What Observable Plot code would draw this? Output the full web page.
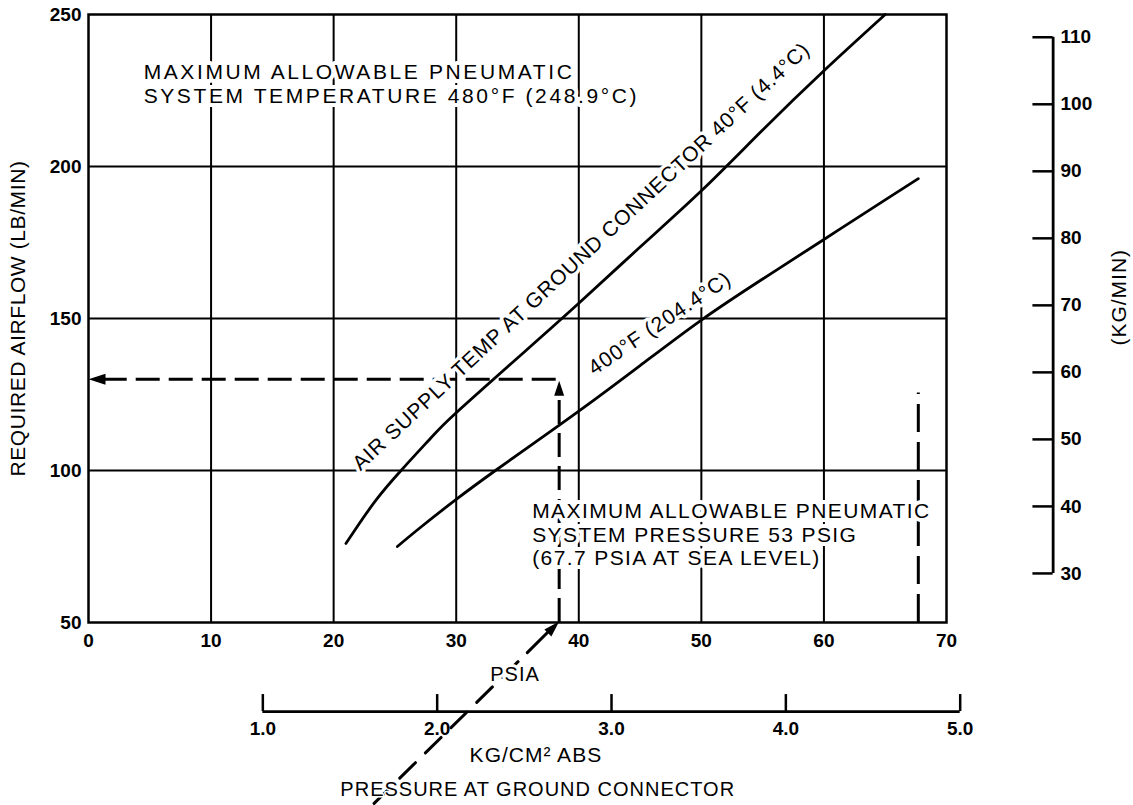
<!DOCTYPE html>
<html><head><meta charset="utf-8">
<script src="https://cdn.jsdelivr.net/npm/d3@7"></script>
<script src="https://cdn.jsdelivr.net/npm/@observablehq/plot@0.6"></script>
<style>body{margin:0;background:#fff;} svg{display:block;}</style>
</head><body><div id="chart"></div>
<script>
// ---- data ----
const psiaTicks = [0, 10, 20, 30, 40, 50, 60, 70];
const airflowTicks = [50, 100, 150, 200, 250];
const kgPerMinTicks = [30, 40, 50, 60, 70, 80, 90, 100, 110];
const kgPerCm2Ticks = [1.0, 2.0, 3.0, 4.0, 5.0];

// Air supply temp at ground connector 40°F (4.4°C)
const psia40F    = [21, 22, 23.5, 25.5, 28, 30, 35, 40, 45, 50, 55, 60, 65];
const airflow40F = [76, 82, 90.5, 100, 111, 119, 137, 155, 173.5, 192, 212, 231.5, 250];
// 400°F (204.4°C)
const psia400F    = [25.2, 27, 30, 33.2, 36, 40, 45, 50, 55, 60, 65, 67.7];
const airflow400F = [75, 81, 90.5, 100, 108, 119.5, 134.5, 149.5, 163, 176, 189, 196];

const examplePsia = 38.4;      // example pressure at ground connector
const exampleAirflow = 130;    // resulting required airflow
const maxPsia = 67.7;          // max allowable system pressure (PSIA at sea level)
const maxPsiaLineTop = 125.5;

const LB_PER_KG = 2.20462;
const PSI_PER_KGCM2 = 14.2233;

// texts
const tempNote = "MAXIMUM ALLOWABLE PNEUMATIC\nSYSTEM TEMPERATURE 480°F (248.9°C)";
const pressNote = "MAXIMUM ALLOWABLE PNEUMATIC\nSYSTEM PRESSURE 53 PSIG\n(67.7 PSIA AT SEA LEVEL)";
const label40F = "AIR SUPPLY TEMP AT GROUND CONNECTOR 40°F (4.4°C)";
const label400F = "400°F (204.4°C)";
const yTitle = "REQUIRED AIRFLOW (LB/MIN)";
const y2Title = "(KG/MIN)";
const xTitle = "PSIA";
const x2Title = "KG/CM² ABS";
const xCaption = "PRESSURE AT GROUND CONNECTOR";

const curve40F = psia40F.map((x, i) => ({x, y: airflow40F[i]}));
const curve400F = psia400F.map((x, i) => ({x, y: airflow400F[i]}));

// arrowhead shapes
const headLeft = {draw(c){c.moveTo(0,0);c.lineTo(17,-5.5);c.lineTo(17,5.5);c.closePath();}};
const headUp = {draw(c){c.moveTo(0,0);c.lineTo(-5,15);c.lineTo(5,15);c.closePath();}};
const headUpRight = {draw(c){c.moveTo(0,0);c.lineTo(-7.8,14.8);c.lineTo(-14.8,7.8);c.closePath();}};

const F = "Liberation Sans";
const halo = {stroke: "white", strokeWidth: 8, paintOrder: "stroke", fill: "black", fontFamily: F};
const dash = {stroke: "black", strokeWidth: 3};

const chart = Plot.plot({
  width: 1133,
  height: 805,
  marginLeft: 88,
  marginRight: 187,
  marginTop: 14,
  marginBottom: 183,
  x: {domain: [0, 70]},
  y: {domain: [50, 250]},
  style: {fontFamily: F, background: "white", color: "black"},
  marks: [
    // grid
    Plot.ruleX(psiaTicks.filter(d => d > 0 && d < 70), {stroke: "black", strokeWidth: 2}),
    Plot.ruleY(airflowTicks.filter(d => d > 50 && d < 250), {stroke: "black", strokeWidth: 2}),
    Plot.frame({stroke: "black", strokeWidth: 2.5}),

    // dashed guide lines
    Plot.ruleY([exampleAirflow], {x1: 1.2, x2: examplePsia, ...dash, strokeDasharray: "24,9"}),
    Plot.ruleX([examplePsia], {y1: 50, y2: exampleAirflow - 3, ...dash, strokeDasharray: "24,9"}),
    Plot.ruleX([maxPsia], {y1: 50, y2: maxPsiaLineTop, ...dash, strokeDasharray: "28,10"}),
    Plot.line([{x: 23.3, y: -9.5}, {x: 35.8, y: 40.1}], {x: "x", y: "y", ...dash, strokeDasharray: "22,14"}),
    Plot.line([{x: 35.8, y: 40.1}, {x: examplePsia - 0.5, y: 48.5}], {x: "x", y: "y", ...dash}),

    // annotations
    Plot.text([tempNote], {x: 4.5, y: 234.2, textAnchor: "start", lineAnchor: "top", lineHeight: 1.12, fontSize: 21, ...halo}),
    Plot.text([pressNote], {x: 36.2, y: 89.8, textAnchor: "start", lineAnchor: "top", lineHeight: 1.12, fontSize: 21, ...halo}),
    Plot.text([label40F], {x: 40.2, y: 170.4, rotate: -43, textAnchor: "middle", lineAnchor: "middle", fontSize: 21, ...halo, strokeWidth: 7}),
    Plot.text([label400F], {x: 46.6, y: 148.4, rotate: -34, textAnchor: "middle", lineAnchor: "middle", fontSize: 21, ...halo, strokeWidth: 7}),
    Plot.text([xTitle], {x: 34.8, y: 32.9, fontSize: 20, ...halo, strokeWidth: 6}),
    Plot.text([x2Title], {x: 36.5, y: 6.3, fontSize: 21, ...halo, strokeWidth: 4}),
    Plot.text([xCaption], {x: 36.65, y: -5.0, fontSize: 20, ...halo, strokeWidth: 3}),

    // curves
    Plot.line(curve40F, {x: "x", y: "y", curve: "natural", stroke: "black", strokeWidth: 2.8}),
    Plot.line(curve400F, {x: "x", y: "y", curve: "natural", stroke: "black", strokeWidth: 2.8}),

    // arrowheads
    Plot.dot([{x: 0, y: exampleAirflow}], {x: "x", y: "y", symbol: headLeft, fill: "black", stroke: "none"}),
    Plot.dot([{x: examplePsia, y: exampleAirflow - 0.5}], {x: "x", y: "y", symbol: headUp, fill: "black", stroke: "none"}),
    Plot.dot([{x: examplePsia, y: 50.3}], {x: "x", y: "y", symbol: headUpRight, fill: "black", stroke: "none"}),

    // main axes
    Plot.axisX(psiaTicks, {tickSize: 0, tickPadding: 11, fontSize: 19, fontWeight: "bold", label: null}),
    Plot.axisY(airflowTicks, {tickSize: 0, tickPadding: 7, fontSize: 19, fontWeight: "bold", label: null}),
    Plot.text([yTitle], {x: -5.7, y: 150, rotate: -90, fontSize: 21, fontFamily: F}),

    // secondary axis: KG/MIN
    Plot.ruleX([78.7], {y1: 30 * LB_PER_KG, y2: 110 * LB_PER_KG, stroke: "black", strokeWidth: 2.8}),
    Plot.ruleY(kgPerMinTicks, {y: d => d * LB_PER_KG, x1: 77.05, x2: 78.7, stroke: "black", strokeWidth: 2.5}),
    Plot.text(kgPerMinTicks, {y: d => d * LB_PER_KG, x: 79.3, text: d => String(d), textAnchor: "start", fontSize: 19, fontWeight: "bold", fontFamily: F}),
    Plot.text([y2Title], {x: 84.1, y: 157, rotate: -90, fontSize: 21, fontFamily: F}),

    // secondary axis: KG/CM² ABS
    Plot.ruleY([20.7], {x1: 1 * PSI_PER_KGCM2, x2: 5 * PSI_PER_KGCM2, stroke: "black", strokeWidth: 2.8}),
    Plot.ruleX(kgPerCm2Ticks, {x: d => d * PSI_PER_KGCM2, y1: 20.7, y2: 26.3, stroke: "black", strokeWidth: 2.5}),
    Plot.text(kgPerCm2Ticks, {x: d => d * PSI_PER_KGCM2, y: 15.1, text: d => d.toFixed(1), fontSize: 19, fontWeight: "bold", fontFamily: F})
  ]
});

// letter spacing to match the wide lettering of the original
const spacing = [
  [tempNote.replace(/\n/g, ""), 2.6],
  [pressNote.replace(/\n/g, ""), 1.4],
  [label40F, 0.8],
  [label400F, 1.0],
  [yTitle, 0.6],
  [y2Title, 1.0],
  [xTitle, 1.0],
  [x2Title, 1.0],
  [xCaption, 1.0]
];
chart.querySelectorAll("text").forEach(t => {
  const s = t.textContent;
  for (const [k, v] of spacing) if (s === k) t.style.letterSpacing = v + "px";
});
document.getElementById("chart").appendChild(chart);
</script>
</body></html>
